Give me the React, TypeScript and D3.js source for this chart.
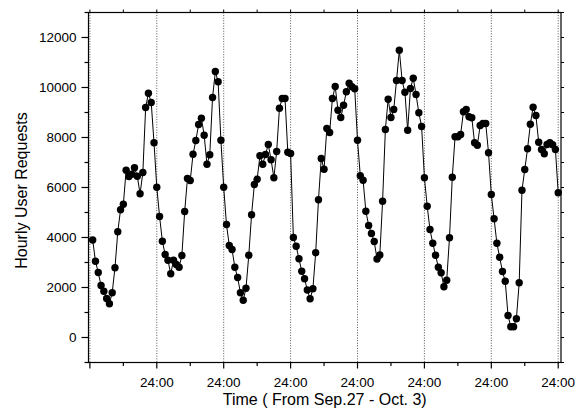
import React from "react";
import * as d3 from "d3";

const requests: number[] = [
  // Day 1 (hours 1-24)
  3900, 3050, 2600, 2080, 1850, 1560, 1350, 1790, 2790, 4230, 5110, 5330,
  6690, 6440, 6530, 6790, 6450, 5750, 6600, 9200, 9770, 9400, 7790, 6010,
  // Day 2
  4840, 3850, 3320, 3090, 2550, 3090, 2920, 2810, 3280, 5040, 6360, 6280,
  7330, 7880, 8520, 8770, 8090, 6930, 7310, 9600, 10640, 10230, 7890, 6010,
  // Day 3
  4520, 3680, 3520, 2810, 2400, 1790, 1490, 1970, 3290, 4910, 6120, 6330,
  7270, 6930, 7320, 7720, 7110, 6390, 7440, 9170, 9560, 9560, 7410, 7360,
  // Day 4
  4000, 3650, 3150, 2650, 2350, 1900, 1550, 1950, 3390, 5510, 7160, 6730,
  8360, 8200, 9560, 10040, 9090, 8800, 9290, 9830, 10170, 10030, 9950, 7890,
  // Day 5
  6470, 6290, 5050, 4480, 4160, 3840, 3140, 3300, 5450, 8320, 9530, 8800,
  9120, 10280, 11490, 10280, 9810, 8290, 9960, 10370, 9720, 8990, 8440, 6390,
  // Day 6
  5250, 4320, 3770, 3290, 2810, 2590, 2030, 2290, 3990, 6410, 8030, 8030,
  8120, 9030, 9120, 8830, 8790, 7790, 7690, 8480, 8560, 8560, 7390, 5720,
  // Day 7
  4750, 3770, 3210, 2640, 2250, 880, 430, 430, 750, 2190, 5890, 6720,
  7550, 8530, 9210, 8880, 7810, 7520, 7350, 7720, 7790, 7710, 7520, 5790,
];

const yMajorTicks: number[] = [0, 2000, 4000, 6000, 8000, 10000, 12000];
const yMinorTicks: number[] = [-1000, 1000, 3000, 5000, 7000, 9000, 11000, 13000];
const xDayTicks: number[] = [0, 24, 48, 72, 96, 120, 144, 168];
const xHalfDayTicks: number[] = [12, 36, 60, 84, 108, 132, 156];
const xTickLabel = "24:00";
const xTitle = "Time ( From Sep.27 - Oct. 3)";
const yTitle = "Hourly User Requests";

const W = 575;
const H = 417;
const L = 88.5;
const R = 561;
const T = 12.5;
const B = 362.5;
const FONT = "'Liberation Sans', Arial, sans-serif";

export default function App() {
  const x = d3.scaleLinear().domain([-0.5, 169]).range([L, R]);
  const y = d3.scaleLinear().domain([-1000, 13000]).range([B, T]);
  const pts = requests.map((v, i) => [x(i + 1), y(v)] as [number, number]);
  const line = d3.line<[number, number]>().x((d) => d[0]).y((d) => d[1]);

  return (
    <div style={{ position: "absolute", left: 0, top: 0 }}>
      <svg width={W} height={H} style={{ display: "block", background: "#fff" }}>
        {/* dotted day separators */}
        {xDayTicks.map((h) => (
          <line key={"g" + h} x1={x(h)} x2={x(h)} y1={T} y2={B}
            stroke="#444" strokeWidth={0.9} strokeDasharray="1,1.6" />
        ))}
        {/* data line */}
        <path d={line(pts) || ""} fill="none" stroke="#000" strokeWidth={1} />
        {pts.map((p, i) => (
          <circle key={"c" + i} cx={p[0]} cy={p[1]} r={3.7} fill="#000" />
        ))}
        {/* frame */}
        <rect x={L} y={T} width={R - L} height={B - T} fill="none" stroke="#000" strokeWidth={1.2} />
        {/* y axis ticks */}
        {yMajorTicks.map((v) => (
          <g key={"ym" + v}>
            <line x1={L - 7} x2={L} y1={y(v)} y2={y(v)} stroke="#000" strokeWidth={1.2} />
            <line x1={R} x2={R + 3} y1={y(v)} y2={y(v)} stroke="#000" strokeWidth={1} />
            <text x={L - 12} y={y(v)} dy="0.35em" textAnchor="end" fontFamily={FONT} fontSize={13.5} fill="#000">
              {v}
            </text>
          </g>
        ))}
        {yMinorTicks.map((v) => (
          <g key={"yn" + v}>
            <line x1={L - 4} x2={L} y1={y(v)} y2={y(v)} stroke="#000" strokeWidth={1.2} />
            <line x1={R} x2={R + 3} y1={y(v)} y2={y(v)} stroke="#000" strokeWidth={1} />
          </g>
        ))}
        {/* x axis ticks */}
        {xDayTicks.map((h) => (
          <g key={"xm" + h}>
            <line x1={x(h)} x2={x(h)} y1={B} y2={B + 6} stroke="#000" strokeWidth={1.2} />
            <line x1={x(h)} x2={x(h)} y1={T} y2={T - 3} stroke="#000" strokeWidth={1} />
            {h > 0 && (
              <text x={x(h)} y={B + 24} textAnchor="middle" fontFamily={FONT} fontSize={13.5} fill="#000">
                {xTickLabel}
              </text>
            )}
          </g>
        ))}
        {xHalfDayTicks.map((h) => (
          <g key={"xn" + h}>
            <line x1={x(h)} x2={x(h)} y1={B} y2={B + 3.5} stroke="#000" strokeWidth={1.2} />
            <line x1={x(h)} x2={x(h)} y1={T} y2={T - 3} stroke="#000" strokeWidth={1} />
          </g>
        ))}
        {/* titles */}
        <text x={(L + R) / 2} y={405} textAnchor="middle" fontFamily={FONT} fontSize={16} fill="#000">
          {xTitle}
        </text>
        <text transform={`translate(27,${(T + B) / 2 + 3}) rotate(-90)`} textAnchor="middle"
          fontFamily={FONT} fontSize={16} fill="#000">
          {yTitle}
        </text>
      </svg>
    </div>
  );
}
